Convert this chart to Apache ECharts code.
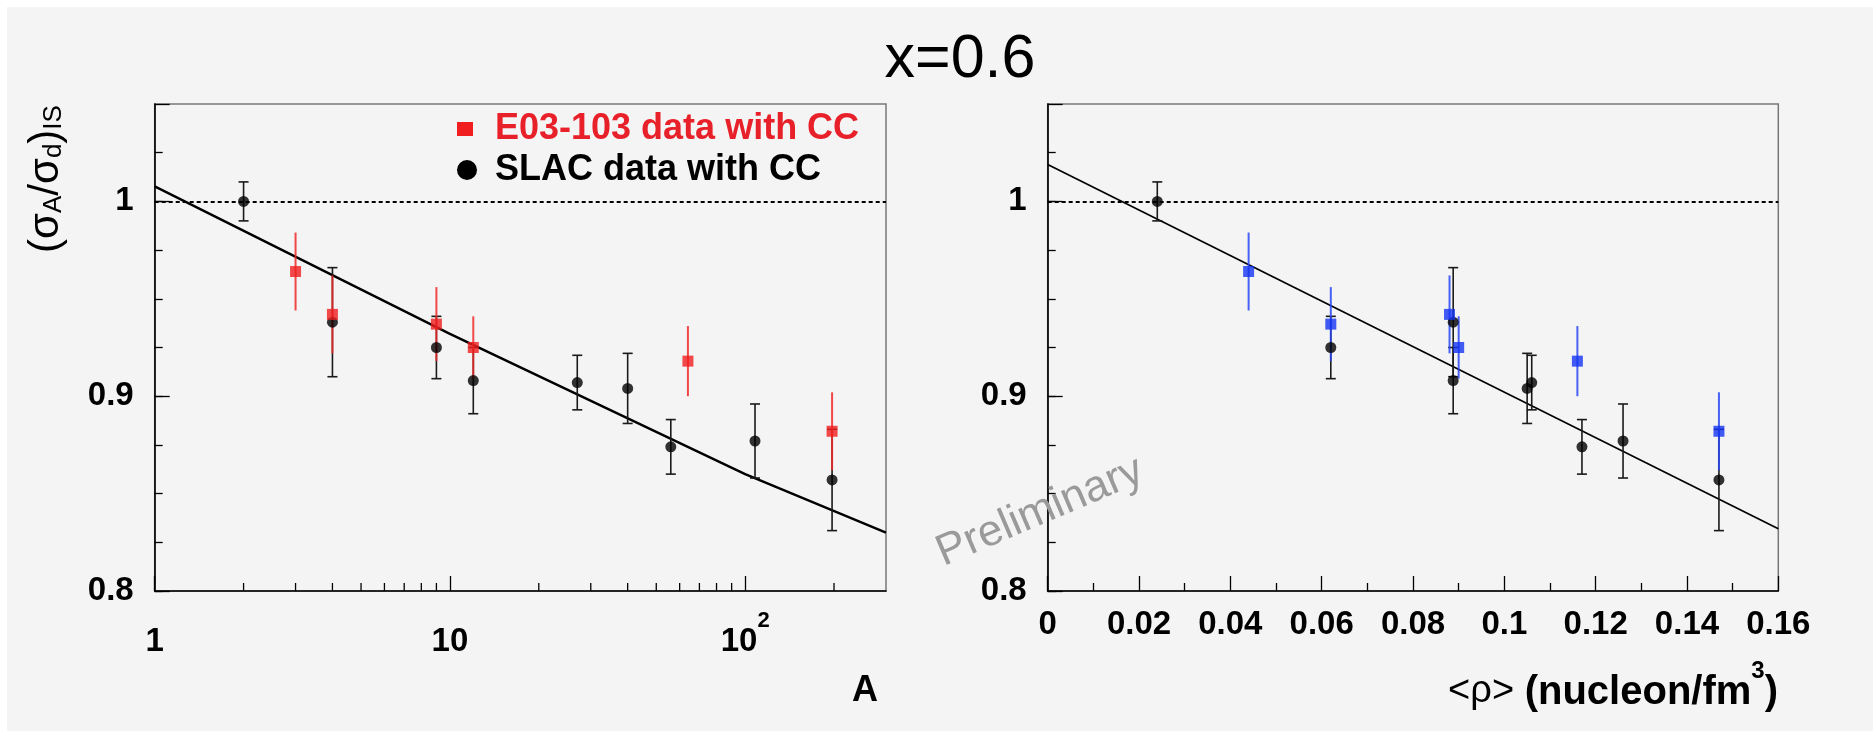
<!DOCTYPE html>
<html><head><meta charset="utf-8">
<script src="https://cdn.jsdelivr.net/npm/echarts@6/dist/echarts.min.js"></script>
<style>
html,body{margin:0;padding:0;background:#fff;overflow:hidden;}
#bg{position:absolute;left:7px;top:7px;right:0;bottom:0;background:#f4f4f4;}
#chart{position:absolute;left:0;top:0;width:1873px;height:731px;}
</style></head><body><div id="bg"></div><div id="chart"></div>
<script>
// ---- data ----
const e03Nuclei = ['3He', '4He', 'Be', 'C', 'Cu', 'Au'];
const e03A      = [3, 4, 9, 12, 64, 197];
const e03Rho    = [0.044, 0.088, 0.062, 0.090, 0.116, 0.147];
const e03Ratio  = [0.964, 0.942, 0.937, 0.925, 0.918, 0.882];
const e03Err    = [0.020, 0.020, 0.019, 0.016, 0.018, 0.020];

const slacNuclei = ['D', '4He', 'Be', 'C', 'Al', 'Ca', 'Fe', 'Ag', 'Au'];
const slacA      = [2, 4, 9, 12, 27, 40, 56, 108, 197];
const slacRho    = [0.024, 0.0888, 0.062, 0.0888, 0.106, 0.105, 0.117, 0.126, 0.147];
const slacRatio  = [1.000, 0.938, 0.925, 0.908, 0.907, 0.904, 0.874, 0.877, 0.857];
const slacErr    = [0.010, 0.028, 0.016, 0.017, 0.014, 0.018, 0.014, 0.019, 0.026];

const fitLineA      = [1, 10, 100, 300];
const fitLineARatio = [1.0077, 0.932, 0.860, 0.830];
const fitLineRho      = [0, 0.16];
const fitLineRhoRatio = [1.019, 0.832];

const xMinorTicksA = [2, 3, 4, 5, 6, 7, 8, 9, 20, 30, 40, 50, 60, 70, 80, 90, 200];
const yTickValues = [0.8, 0.9, 1];
const yTickLabels = ['0.8', '0.9', '1'];

// ---- helpers ----
const FONT = "'Liberation Sans', Arial, Helvetica, sans-serif";
const zip3 = (a, b, c) => a.map((v, i) => [v, b[i], c[i]]);
const zip2 = (a, b) => a.map((v, i) => [v, b[i]]);

function errRender(capHalf, color, width) {
  return function (params, api) {
    const x = api.value(0), v = api.value(1), e = api.value(2);
    const p1 = api.coord([x, v + e]), p2 = api.coord([x, v - e]);
    const ch = [{ type: 'line', shape: { x1: p1[0], y1: p1[1], x2: p2[0], y2: p2[1] },
                  style: { stroke: color, lineWidth: width } }];
    if (capHalf) {
      ch.push({ type: 'line', shape: { x1: p1[0] - capHalf, y1: p1[1], x2: p1[0] + capHalf, y2: p1[1] },
                style: { stroke: color, lineWidth: width } });
      ch.push({ type: 'line', shape: { x1: p2[0] - capHalf, y1: p2[1], x2: p2[0] + capHalf, y2: p2[1] },
                style: { stroke: color, lineWidth: width } });
    }
    return { type: 'group', children: ch };
  };
}
function minorTickRender(params, api) {
  const p = api.coord([api.value(0), api.value(1)]);
  return { type: 'line', shape: { x1: p[0], y1: p[1], x2: p[0], y2: p[1] - 8 },
           style: { stroke: '#000', lineWidth: 1.3 } };
}
function yLabel(v) {
  for (let i = 0; i < yTickValues.length; i++) if (Math.abs(v - yTickValues[i]) < 1e-6) return yTickLabels[i];
  return '';
}

const labelBold = { fontFamily: FONT, fontWeight: 'bold', fontSize: 33, color: '#000' };
const axisLineBlack = { show: true, lineStyle: { color: '#000', width: 1.6 } };

function yAxesFor(grid) {
  return [
    { type: 'value', gridIndex: grid, position: 'left', min: 0.8, max: 1.05, interval: 0.025,
      axisLine: axisLineBlack, splitLine: { show: false },
      axisTick: { show: true, inside: true, length: 8, lineStyle: { color: '#000', width: 1.3 } },
      axisLabel: Object.assign({ margin: 21, formatter: yLabel, showMaxLabel: false, lineHeight: 33 }, labelBold) },
    { type: 'value', gridIndex: grid, position: 'left', min: 0.8, max: 1.05, interval: 0.1,
      axisLine: { show: false }, splitLine: { show: false },
      axisTick: { show: true, inside: true, length: 15, lineStyle: { color: '#000', width: 1.3 } },
      axisLabel: { show: false } }
  ];
}

const chart = echarts.init(document.getElementById('chart'), null, { renderer: 'canvas' });

const option = {
  backgroundColor: 'transparent',
  animation: false,
  grid: [
    { left: 154.7, top: 104, width: 731.3, height: 487, show: true, borderColor: '#777', borderWidth: 1.5, backgroundColor: 'transparent' },
    { left: 1047.7, top: 104, width: 730.6, height: 487, show: true, borderColor: '#777', borderWidth: 1.5, backgroundColor: 'transparent' }
  ],
  xAxis: [
    { type: 'log', logBase: 10, gridIndex: 0, min: 1, max: 300,
      axisLine: axisLineBlack, splitLine: { show: false }, minorTick: { show: false },
      axisTick: { show: true, inside: true, length: 15, lineStyle: { color: '#000', width: 1.3 } },
      axisLabel: {
        margin: 19, showMaxLabel: false,
        formatter: function (v) {
          if (Math.abs(v - 100) < 1e-6) return '{b|10}{s|2}';
          if (Math.abs(v - 1) < 1e-6) return '{b|1}';
          if (Math.abs(v - 10) < 1e-6) return '{b|10}';
          return '';
        },
        rich: {
          b: { fontFamily: FONT, fontWeight: 'bold', fontSize: 33, lineHeight: 33, padding: [15, 0, 0, 0], verticalAlign: 'top', color: '#000' },
          s: { fontFamily: FONT, fontWeight: 'bold', fontSize: 22, lineHeight: 22, verticalAlign: 'top', color: '#000' }
        }
      } },
    { type: 'value', gridIndex: 1, min: 0, max: 0.16, interval: 0.02,
      axisLine: axisLineBlack, splitLine: { show: false },
      axisTick: { show: true, inside: true, length: 15, lineStyle: { color: '#000', width: 1.3 } },
      minorTick: { show: true, splitNumber: 2, length: 8, lineStyle: { color: '#000', width: 1.3 } },
      axisLabel: Object.assign({ margin: 17, lineHeight: 33,
        formatter: v => String(+v.toFixed(2)) }, labelBold) }
  ],
  yAxis: yAxesFor(0).concat(yAxesFor(1)),
  series: [
    // ---- left panel ----
    { type: 'line', name: 'fit A', xAxisIndex: 0, yAxisIndex: 0, data: zip2(fitLineA, fitLineARatio),
      symbol: 'none', lineStyle: { color: '#000', width: 2.4 }, silent: true, z: 3,
      markLine: { silent: true, symbol: ['none', 'none'], label: { show: false },
        lineStyle: { color: '#000', width: 2, type: [4, 3] }, data: [{ yAxis: 1 }] } },
    { type: 'custom', name: 'minor ticks A', xAxisIndex: 0, yAxisIndex: 0,
      data: xMinorTicksA.map(v => [v, 0.8]), renderItem: minorTickRender, silent: true, z: 4 },
    { type: 'custom', name: 'SLAC err A', xAxisIndex: 0, yAxisIndex: 0,
      data: zip3(slacA, slacRatio, slacErr), renderItem: errRender(5, '#1a1a1a', 1.6), z: 5 },
    { type: 'custom', name: 'E03 err A', xAxisIndex: 0, yAxisIndex: 0,
      data: zip3(e03A, e03Ratio, e03Err), renderItem: errRender(0, 'rgba(240,40,40,0.85)', 2), z: 6 },
    { type: 'scatter', name: 'SLAC data with CC', xAxisIndex: 0, yAxisIndex: 0,
      data: zip2(slacA, slacRatio), symbol: 'circle', symbolSize: 11, itemStyle: { color: '#000' }, z: 7 },
    { type: 'scatter', name: 'E03-103 data with CC', xAxisIndex: 0, yAxisIndex: 0,
      data: zip2(e03A, e03Ratio), symbol: 'rect', symbolSize: [11, 11], itemStyle: { color: '#f01e1e' }, z: 8 },
    // ---- right panel ----
    { type: 'line', name: 'fit rho', xAxisIndex: 1, yAxisIndex: 2, data: zip2(fitLineRho, fitLineRhoRatio),
      symbol: 'none', lineStyle: { color: '#000', width: 1.7 }, silent: true, z: 3,
      markLine: { silent: true, symbol: ['none', 'none'], label: { show: false },
        lineStyle: { color: '#000', width: 2, type: [4, 3] }, data: [{ yAxis: 1 }] } },
    { type: 'custom', name: 'SLAC err rho', xAxisIndex: 1, yAxisIndex: 2,
      data: zip3(slacRho, slacRatio, slacErr), renderItem: errRender(5, '#1a1a1a', 1.6), z: 5 },
    { type: 'custom', name: 'E03 err rho', xAxisIndex: 1, yAxisIndex: 2,
      data: zip3(e03Rho, e03Ratio, e03Err), renderItem: errRender(0, 'rgba(40,70,245,0.85)', 2), z: 6 },
    { type: 'scatter', name: 'SLAC data with CC (rho)', xAxisIndex: 1, yAxisIndex: 2,
      data: zip2(slacRho, slacRatio), symbol: 'circle', symbolSize: 11, itemStyle: { color: '#000' }, z: 7 },
    { type: 'scatter', name: 'E03-103 data with CC (rho)', xAxisIndex: 1, yAxisIndex: 2,
      data: zip2(e03Rho, e03Ratio), symbol: 'rect', symbolSize: [11, 11], itemStyle: { color: '#1433f2' }, z: 8 }
  ],
  graphic: [
    { type: 'text', x: 960, y: 60, z: 100, style: { text: 'x=0.6', fontFamily: FONT, fontSize: 61, fill: '#000', align: 'center', verticalAlign: 'middle' } },
    // legend
    { type: 'rect', x: 457, y: 122, shape: { width: 16, height: 14 }, style: { fill: '#f01e1e' }, z: 100 },
    { type: 'circle', x: 467, y: 170, shape: { r: 10 }, style: { fill: '#000' }, z: 100 },
    { type: 'text', x: 495, y: 129, z: 100, style: { text: 'E03-103 data with CC', fontFamily: FONT, fontWeight: 'bold', fontSize: 36, fill: '#e8202a', align: 'left', verticalAlign: 'middle' } },
    { type: 'text', x: 495, y: 170, z: 100, style: { text: 'SLAC data with CC', fontFamily: FONT, fontWeight: 'bold', fontSize: 36, fill: '#000', align: 'left', verticalAlign: 'middle' } },
    // y axis title
    { type: 'text', x: 46, y: 179, rotation: Math.PI / 2, z: 100,
      style: { text: '{m|(σ}{s|A}{m|/σ}{s|d}{m|)}{s|IS}', align: 'center', verticalAlign: 'middle',
        rich: {
          m: { fontFamily: FONT, fontSize: 42, lineHeight: 42, padding: [0, 0, 6, 0], verticalAlign: 'top', fill: '#000' },
          s: { fontFamily: FONT, fontSize: 26, lineHeight: 26, verticalAlign: 'bottom', fill: '#000' }
        } } },
    // x axis titles
    { type: 'text', x: 878, y: 691, z: 100, style: { text: 'A', fontFamily: FONT, fontWeight: 'bold', fontSize: 36, fill: '#000', align: 'right', verticalAlign: 'middle' } },
    { type: 'text', x: 1778, y: 699, z: 100,
      style: { text: '{a|<ρ> }{b|(nucleon/fm}{s|3}{b|)}', align: 'right', verticalAlign: 'bottom',
        rich: {
          a: { fontFamily: FONT, fontSize: 38, lineHeight: 40, padding: [14, 0, 0, 0], verticalAlign: 'top', fill: '#000' },
          b: { fontFamily: FONT, fontWeight: 'bold', fontSize: 40, lineHeight: 40, padding: [14, 0, 0, 0], verticalAlign: 'top', fill: '#000' },
          s: { fontFamily: FONT, fontWeight: 'bold', fontSize: 24, lineHeight: 24, verticalAlign: 'top', fill: '#000' }
        } } },
    // watermark
    { type: 'text', x: 1040, y: 512, rotation: 23 * Math.PI / 180, z: 100,
      style: { text: 'Preliminary', fontFamily: FONT, fontSize: 44, fill: '#9a9a9a', align: 'center', verticalAlign: 'middle' } }
  ]
};
chart.setOption(option);
</script></body></html>
